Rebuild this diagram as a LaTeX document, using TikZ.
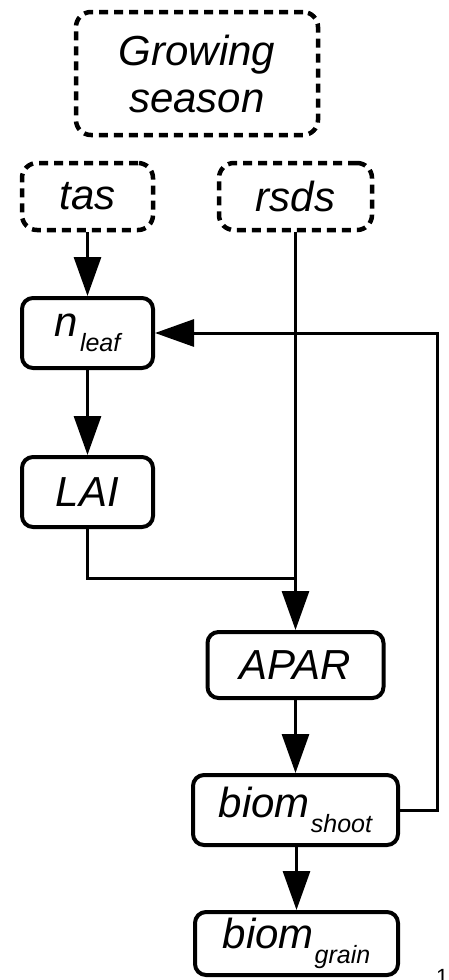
\documentclass[tikz,border=0pt]{standalone}
\usepackage{fontspec}
\setmainfont{Liberation Sans}
\usetikzlibrary{arrows.meta}
\newcommand{\sbs}[1]{\raisebox{-15pt}{\fontsize{25}{25}\selectfont #1}}
\begin{document}
\begin{tikzpicture}[x=1pt,y=-1pt,
  base/.style={draw=black, rounded corners=11pt, align=center, inner sep=0pt,
     font=\fontsize{42}{47}\selectfont\itshape},
  solidbox/.style={base, line width=4pt},
  dashbox/.style={base, line width=4.5pt, dash pattern=on 9pt off 6pt, rounded corners=15pt},
  conn/.style={line width=3pt},
  arr/.style={conn, -{Triangle[length=39pt,width=27pt]}}]
\useasboundingbox (0,0) rectangle (449,980);
\node[dashbox, minimum width=242pt, minimum height=123pt] (gs) at (197,73.5) {Growing\\season};
\node[dashbox, minimum width=131pt, minimum height=67pt] (tas) at (87.5,196.5) {tas};
\node[dashbox, minimum width=153pt, minimum height=67pt] (rsds) at (295.5,196.5) {rsds};
\node[solidbox, minimum width=131pt, minimum height=70pt] (nleaf) at (87.5,333) {n\kern2pt\sbs{leaf}};
\node[solidbox, minimum width=131pt, minimum height=70pt] (lai) at (87.5,492) {LAI};
\node[solidbox, minimum width=176pt, minimum height=66pt] (apar) at (295.5,665) {APAR};
\node[solidbox, minimum width=205pt, minimum height=70pt] (shoot) at (295.5,810) {biom\kern1pt\sbs{shoot}};
\node[solidbox, minimum width=203pt, minimum height=63pt] (grain) at (296.5,943.5) {biom\kern1pt\sbs{grain}};
\node[anchor=north west, inner sep=0pt, font=\fontsize{22}{22}\selectfont] (num) at (436,969) {1};
\coordinate (join) at (295.5,578);
\coordinate (fbr) at (437,810);
\coordinate (fbt) at (437,333);
\draw[arr] (tas.south) -- (nleaf.north);
\draw[arr] (nleaf.south) -- (lai.north);
\draw[arr] (rsds.south) -- (apar.north);
\draw[conn] (lai.south) |- (join);
\draw[arr] (apar.south) -- (shoot.north);
\draw[arr] (shoot.south -| grain.north) -- (grain.north);
\draw[arr] (shoot.east) -- (fbr) -- (fbt) -- (nleaf.east);
\end{tikzpicture}
\end{document}
